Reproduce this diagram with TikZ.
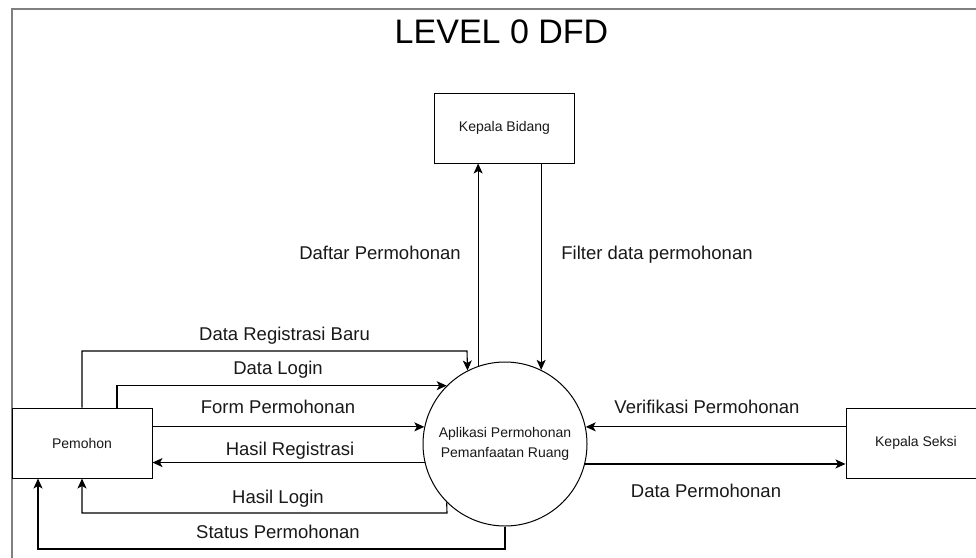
\documentclass[tikz,border=0pt]{standalone}
\usepackage{fontspec}
\setmainfont{Liberation Sans}
\usetikzlibrary{arrows.meta,calc}
\begin{document}
\begin{tikzpicture}[x=1pt,y=-1pt,
  ent/.style={draw=black, line width=1pt, minimum width=140pt, minimum height=70pt,
    inner sep=0pt, text=black!90, font=\fontsize{14}{16}\selectfont},
  proc/.style={circle, draw=black, line width=1pt, minimum size=164pt, inner sep=0pt,
    align=center, text=black!90, font=\fontsize{14}{20}\selectfont},
  flow/.style={draw=black, line width=1.1pt, -{Stealth[length=10pt,width=9pt,inset=2.5pt]}},
  lbl/.style={anchor=base, inner sep=0pt, text=black!90, font=\fontsize{18.5}{22}\selectfont},
]
\clip (0,0) rectangle (976,557);
\fill[white] (0,0) rectangle (976,557);
% page frame
\draw[black!50, line width=2pt] (11.5,600) -- (11.5,8.5) -- (1000,8.5);

\node[anchor=base, inner sep=0pt, font=\fontsize{34}{40}\selectfont] (title) at (501.5,43) {LEVEL 0 DFD};

% external entities and the process
\node[ent] (kb) at (504.5,128) {Kepala Bidang};
\node[ent] (pem) at (82,443) {Pemohon};
\node[ent] (ks) at (916,443) {Kepala Seksi};
\node[proc] (app) at (505,444) {Aplikasi Permohonan\\Pemanfaatan Ruang};

% bend points
\coordinate (r1) at (467,351);
\coordinate (r2) at (447,513);
\coordinate (r3) at (505,549);

% data flows
\draw[flow] (pem.north) |- (r1) -- (app.117.6);
\draw[flow] ([xshift=35pt]pem.north) |- (app.135);
\draw[flow] (app.168 -| pem.east) -- (app.168);
\draw[flow] (app.193.4) -- (app.193.4 -| pem.east);
\draw[flow] (app.225) -- (r2) -| (pem.south);
\draw[flow] (app.south) -- (r3) -| ([xshift=-44pt]pem.south);
\draw[flow] (app.109.2) -- (app.109.2 |- kb.south);
\draw[flow] (app.64.7 |- kb.south) -- (app.64.7);
\draw[flow] (app.12 -| ks.west) -- (app.12);
\draw[flow] (app.-14) -- (app.-14 -| ks.west);

% flow labels
\node[lbl] (t1) at (284.5,340) {Data Registrasi Baru};
\node[lbl] (t2) at (278,374) {Data Login};
\node[lbl] (t3) at (278,413) {Form Permohonan};
\node[lbl] (t4) at (290,455) {Hasil Registrasi};
\node[lbl] (t5) at (278,503) {Hasil Login};
\node[lbl] (t6) at (278,538) {Status Permohonan};
\node[lbl] (t7) at (380,259) {Daftar Permohonan};
\node[lbl] (t8) at (657,259) {Filter data permohonan};
\node[lbl] (t9) at (707,413) {Verifikasi Permohonan};
\node[lbl] (t10) at (706,497) {Data Permohonan};
\end{tikzpicture}
\end{document}
